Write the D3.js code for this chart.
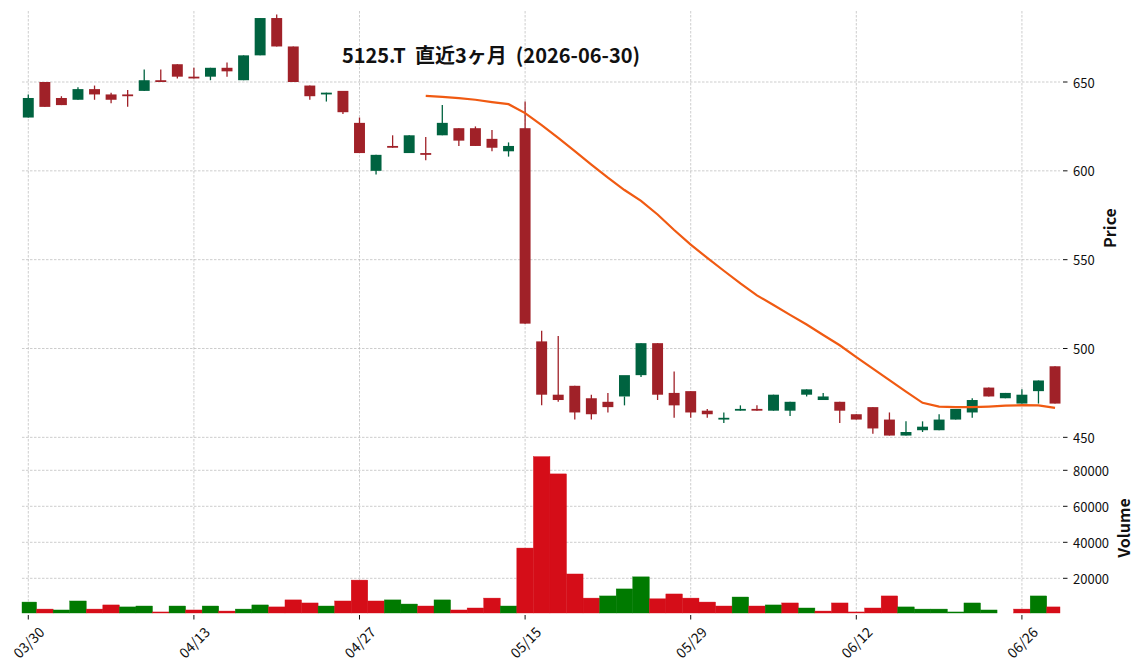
<!DOCTYPE html>
<html>
<head>
  <meta charset="UTF-8">
  <style>
    body {
        margin: 0;
        background: #fff;
        font-family: "Noto Sans CJK JP", "Noto Sans", sans-serif;
    }
    .grid line {
        stroke: #b8b8b8;
        stroke-width: 0.7;
        stroke-dasharray: 2.5,1.5;
    }
    .tick-label {
        font-size: 13px;
        fill: #111;
    }
    .x-label {
        font-size: 14px;
        fill: #111;
    }
    .axis-title {
        font-size: 16px;
        font-weight: bold;
        fill: #111;
    }
    .title {
        font-size: 20px;
        font-weight: bold;
        fill: #111;
        white-space: pre;
    }
  </style>
</head>
<body>
<svg width="1145" height="670"></svg>

<script src="https://d3js.org/d3.v7.min.js"></script>
<script>

// daily OHLC, 63 trading days ending 2026-06-30
const opens  = [630,650,641,640,646,643,643,645,651,660,653,653,658,651,665,686,670,648,643,645,627,600,614,610,610,
                620,624,624,618,611,624,504,474,479,472,470,473,485,503,475,476,465,460,465,466,465,465,474,471,470,
                463,467,460,451,454,454,460,464,478,472,469,476,490];
const highs  = [643,650,642,647,648,644,645.5,657,657,660,658,658,661,665,686,688,670,648,644,645,630,609,620,620,619,
                637,624,625,623,616,639,510,507,479,474,475,473,503,503,487,476,466,464,468,468,474,470,477,475,470,
                463,467,464,459,459,463,466,472,478,475,477,482,490];
const lows   = [630,636,637,640,640,638,636,645,650,652,652,651,653,651,665,670,650,640,639,632,610,598,613,610,606,
                620,614,614,611,608,514,468,470,460,460,464,468,484,471,461,461,461,458,465,465,465,462,473,471,458,
                460,452,451,451,453,454,460,461,473,472,469,469,469];
const closes = [641,636,637,646,643,640,642,651,650,653,652,658,656,665,686,670,650,642,644,633,610,609,613,620,609,
                627,617,614,613,614,514,474,471,464,463,467,485,503,474,468,464,463,461,466,465,474,470,477,473,465,
                460,455,451,453,456,460,466,471,473,475,474,482,469];
const volumes = [6800,2900,2400,7400,2900,5200,4100,4600,1300,4600,2400,4600,1800,2900,5200,4100,8000,6300,4600,7400,
                 19000,7400,8000,5700,4600,8000,2400,3500,9000,4600,36800,87600,78000,22400,9000,10200,14100,20800,8600,11300,
                 9000,6800,4600,9600,4600,5200,6300,3500,1800,6300,1300,3500,10200,4100,2900,2900,1300,6300,2400,0,
                 2900,10200,4100];

const xTickIdx    = [0, 10, 20, 30, 40, 50, 60];
const xTickLabels = ["03/30", "04/13", "04/27", "05/15", "05/29", "06/12", "06/26"];
const priceTicks  = [450, 500, 550, 600, 650];
const volumeTicks = [20000, 40000, 60000, 80000];
const maPeriod = 25;

const n = closes.length;

const colors = {
  candleUp: "#006340", candleDown: "#a02128",
  volUp: "#007a00", volDown: "#d50d18",
  ma: "#f05a12"
};

let svg = d3.select("svg");

// panels
const left = 22, right = 1060;
const priceTop = 12, priceBottom = 440;
const volTop = 441, volBottom = 613;

let x = d3.scaleLinear().domain([-0.38, n - 0.7]).range([left, right]);
let yPrice = d3.scaleLinear().domain([448.5, 689.4]).range([priceBottom, priceTop]);
let yVol = d3.scaleLinear().domain([720, 96280]).range([volBottom, volTop]);

const step = x(1) - x(0);

// grid
let grid = svg.append("g").attr("class", "grid");
grid.selectAll(".hp")
  .data(priceTicks)
  .join("line")
    .attr("x1", left).attr("x2", right)
    .attr("y1", d => yPrice(d)).attr("y2", d => yPrice(d));
grid.selectAll(".hv")
  .data(volumeTicks)
  .join("line")
    .attr("class", "hv")
    .attr("x1", left).attr("x2", right)
    .attr("y1", d => yVol(d)).attr("y2", d => yVol(d));
grid.selectAll(".vx")
  .data(xTickIdx)
  .join("line")
    .attr("class", "vx")
    .attr("x1", d => x(d)).attr("x2", d => x(d))
    .attr("y1", priceTop - 1).attr("y2", volBottom);

// candles
let idx = d3.range(n);
let candles = svg.append("g");
candles.selectAll("line")
  .data(idx)
  .join("line")
    .attr("x1", i => x(i)).attr("x2", i => x(i))
    .attr("y1", i => yPrice(highs[i]))
    .attr("y2", i => yPrice(lows[i]))
    .attr("stroke", i => closes[i] >= opens[i] ? colors.candleUp : colors.candleDown)
    .attr("stroke-width", 1.3);
candles.selectAll("rect")
  .data(idx)
  .join("rect")
    .attr("x", i => x(i) - step * 0.33)
    .attr("width", step * 0.66)
    .attr("y", i => yPrice(Math.max(opens[i], closes[i])))
    .attr("height", i => Math.max(1.2, Math.abs(yPrice(opens[i]) - yPrice(closes[i]))))
    .attr("fill", i => closes[i] >= opens[i] ? colors.candleUp : colors.candleDown);

// moving average (25 days) of closes
let ma = idx.filter(i => i >= maPeriod - 1)
  .map(i => [i, d3.mean(closes.slice(i - maPeriod + 1, i + 1))]);
svg.append("path")
  .datum(ma)
  .attr("fill", "none")
  .attr("stroke", colors.ma)
  .attr("stroke-width", 2.2)
  .attr("d", d3.line().x(d => x(d[0])).y(d => yPrice(d[1])));

// volume bars, coloured by close vs previous close
let volColor = i => {
  let up = i === 0 ? closes[0] >= opens[0] : closes[i] >= closes[i - 1];
  return up ? colors.volUp : colors.volDown;
};
svg.append("g")
  .selectAll("rect")
  .data(idx.filter(i => volumes[i] > yVol.domain()[0]))
  .join("rect")
    .attr("x", i => Math.max(left, x(i) - step / 2))
    .attr("width", i => Math.min(x(i) + step / 2, right) - Math.max(left, x(i) - step / 2))
    .attr("y", i => yVol(volumes[i]))
    .attr("height", i => volBottom - yVol(volumes[i]))
    .attr("fill", volColor)
    .attr("stroke", volColor)
    .attr("stroke-width", 0.4);

// x axis ticks and labels
let xt = svg.append("g");
xt.selectAll("line")
  .data(xTickIdx)
  .join("line")
    .attr("x1", d => x(d)).attr("x2", d => x(d))
    .attr("y1", 615).attr("y2", 619.5)
    .attr("stroke", "#111").attr("stroke-width", 1);
xt.selectAll("text")
  .data(xTickIdx)
  .join("text")
    .attr("class", "x-label")
    .attr("transform", d => "translate(" + x(d) + ",642) rotate(-45)")
    .attr("text-anchor", "middle")
    .attr("dominant-baseline", "central")
    .text((d, i) => xTickLabels[i]);

// right axes
function rightAxis(ticks, scale) {
  let g = svg.append("g");
  g.selectAll("line")
    .data(ticks)
    .join("line")
      .attr("x1", 1063).attr("x2", 1067.5)
      .attr("y1", d => scale(d)).attr("y2", d => scale(d))
      .attr("stroke", "#111").attr("stroke-width", 1);
  g.selectAll("text")
    .data(ticks)
    .join("text")
      .attr("class", "tick-label")
      .attr("x", 1073)
      .attr("y", d => scale(d))
      .attr("dominant-baseline", "central")
      .text(d => d);
}
rightAxis(priceTicks, yPrice);
rightAxis(volumeTicks, yVol);

svg.append("text")
  .attr("class", "axis-title")
  .attr("transform", "translate(1116,228) rotate(-90)")
  .attr("text-anchor", "middle")
  .text("Price");
svg.append("text")
  .attr("class", "axis-title")
  .attr("transform", "translate(1130,528) rotate(-90)")
  .attr("text-anchor", "middle")
  .text("Volume");

svg.append("text")
  .attr("class", "title")
  .attr("x", 491)
  .attr("y", 63)
  .attr("text-anchor", "middle")
  .text("5125.T  直近3ヶ月  (2026-06-30)");

</script>
</body>
</html>
